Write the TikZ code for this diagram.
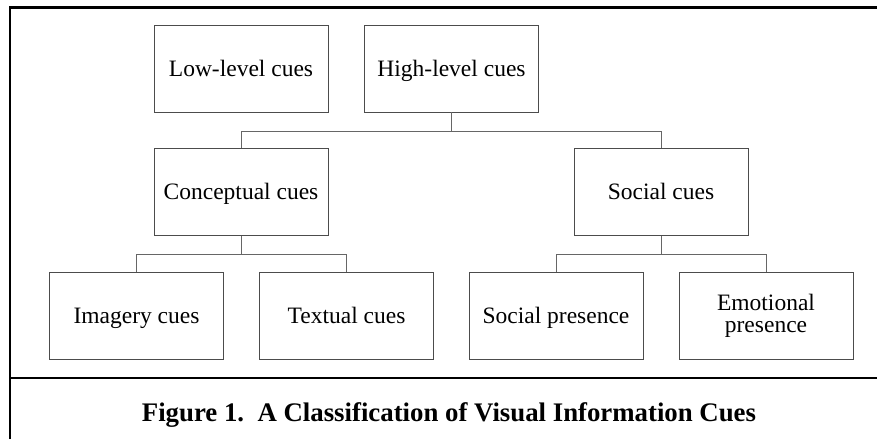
\documentclass[tikz,border=0pt]{standalone}
\usepackage{fontspec}
\setmainfont{Liberation Serif}
\begin{document}
\begin{tikzpicture}[x=1pt,y=-1pt,
  cuebox/.style={draw=black!70, line width=0.9pt, minimum width=174pt, minimum height=87pt,
    inner sep=0pt, align=center, font=\fontsize{23.5}{22}\selectfont},
  oneline/.style={text height=15.6pt, text depth=0pt},
  conn/.style={draw=black!60, line width=0.9pt},
  frameline/.style={draw=black, line width=2.2pt}]
\useasboundingbox (0,0) rectangle (877,439);
\fill[white] (0,0) rectangle (877,439);
% frame
\draw[frameline] (10,439) -- (10,7.5) -- (877,7.5);
\draw[frameline] (10,378) -- (877,378);
% boxes
\node[cuebox,oneline] (low) at (241,68.5) {Low-level cues};
\node[cuebox,oneline] (high) at (451.5,68.5) {High-level cues};
\node[cuebox,oneline] (conc) at (241,192) {Conceptual cues};
\node[cuebox,oneline] (soc) at (661,192) {Social cues};
\node[cuebox,oneline] (img) at (136.5,315.5) {Imagery cues};
\node[cuebox,oneline] (txt) at (346.5,315.5) {Textual cues};
\node[cuebox,oneline] (sp) at (556,315.5) {Social presence};
\node[cuebox] (ep) at (766,315.5) {Emotional\\presence};
% connectors
\draw[conn] (high.south) -- ++(0,18.5) -| (conc.north);
\draw[conn] (high.south) ++(0,18.5) -| (soc.north);
\draw[conn] (conc.south) -- ++(0,18.5) -| (img.north);
\draw[conn] (conc.south) ++(0,18.5) -| (txt.north);
\draw[conn] (soc.south) -- ++(0,18.5) -| (sp.north);
\draw[conn] (soc.south) ++(0,18.5) -| (ep.north);
% caption
\node[font=\fontsize{26.8}{30}\bfseries\selectfont, anchor=base] (cap) at (449,421) {Figure 1.\ \ A Classification of Visual Information Cues};
\end{tikzpicture}
\end{document}
